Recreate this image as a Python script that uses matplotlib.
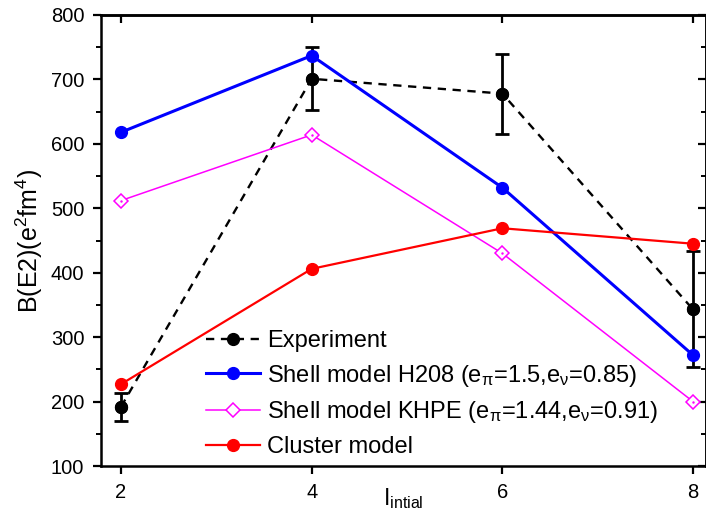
import matplotlib
matplotlib.use("Agg")
import matplotlib.pyplot as plt
from matplotlib.ticker import MultipleLocator

plt.rcParams['font.family'] = ['Liberation Sans', 'DejaVu Sans']
plt.rcParams['mathtext.fontset'] = 'custom'
plt.rcParams['mathtext.rm'] = 'Liberation Sans'
plt.rcParams['mathtext.it'] = 'Liberation Sans:italic'
plt.rcParams['mathtext.sf'] = 'Liberation Sans'

spins = [2, 4, 6, 8]
exp_vals = [192, 701, 678, 343]
exp_err = [22, 49, 62, 90]
h208_vals = [618, 737, 532, 272]
khpe_vals = [512, 614, 430, 200]
cluster_vals = [227, 406, 469, 445]

labels = ['Experiment',
          r'Shell model H208 (e$_{\mathregular{\pi}}$=1.5,e$_{\mathregular{\nu}}$=0.85)',
          r'Shell model KHPE (e$_{\mathregular{\pi}}$=1.44,e$_{\mathregular{\nu}}$=0.91)',
          'Cluster model']

fig = plt.figure(figsize=(7.06, 5.12), dpi=100)
ax = fig.add_axes([101/706, 46/512, 605/706, 451/512])

ax.errorbar(spins, exp_vals, yerr=exp_err, color='black', ls='none',
            marker='o', ms=8.5, capsize=5, elinewidth=2.0, capthick=2.0, zorder=2)
l0, = ax.plot(spins, exp_vals, color='black', ls=(0, (3.5, 2.8)), lw=1.7,
              marker='o', ms=8.5, label=labels[0], zorder=2)
l1, = ax.plot(spins, h208_vals, color='#0000ff', lw=2.2, marker='o', ms=8.5, label=labels[1], zorder=3)
l2, = ax.plot(spins, khpe_vals, color='#ff00ff', lw=1.1, marker='D', ms=7, mfc='white', mew=1.1,
              label=labels[2], zorder=3)
ax.plot(spins, khpe_vals, color='#ff00ff', lw=0, marker='.', ms=1.5, zorder=4)
l3, = ax.plot(spins, cluster_vals, color='#ff0000', lw=1.6, marker='o', ms=8.5, label=labels[3], zorder=3)

ax.set_xlim(1.79, 8.136)
ax.set_ylim(100, 800)
ax.xaxis.set_major_locator(MultipleLocator(2))
ax.yaxis.set_major_locator(MultipleLocator(100))
ax.yaxis.set_minor_locator(MultipleLocator(50))

for s in ax.spines.values():
    s.set_linewidth(1.8)

ax.tick_params(axis='both', which='major', direction='out', length=6, width=1.6, labelsize=14.5,
               pad=6)
ax.tick_params(axis='y', which='minor', direction='out', length=3.5, width=1.4)
ax.tick_params(axis='both', which='both', top=False, right=False)

axt = ax.secondary_xaxis('top')
axt.xaxis.set_major_locator(MultipleLocator(2))
axt.tick_params(direction='in', length=6, width=1.6, labeltop=False)
axr = ax.secondary_yaxis('right')
axr.yaxis.set_major_locator(MultipleLocator(100))
axr.yaxis.set_minor_locator(MultipleLocator(50))
axr.tick_params(which='major', direction='in', length=6, width=1.6, labelright=False)
axr.tick_params(which='minor', direction='in', length=3.5, width=1.4, labelright=False)
for a in (axt, axr):
    for s in a.spines.values():
        s.set_linewidth(1.8)

ax.set_xlabel(r'$\mathregular{I_{intial}}$', fontsize=16.5, labelpad=-11)
ax.set_ylabel(r'B(E2)(e$^{2}$fm$^{4}$)', fontsize=18, labelpad=4)

leg = ax.legend(handles=[l0, l1, l2, l3], loc='upper left', bbox_to_anchor=(206/706, 1 - 330/512),
                bbox_transform=fig.transFigure, frameon=False, fontsize=17,
                handlelength=2.3, handletextpad=0.3, labelspacing=0.45,
                borderpad=0, borderaxespad=0)

fig.savefig('out.png', dpi=100)
